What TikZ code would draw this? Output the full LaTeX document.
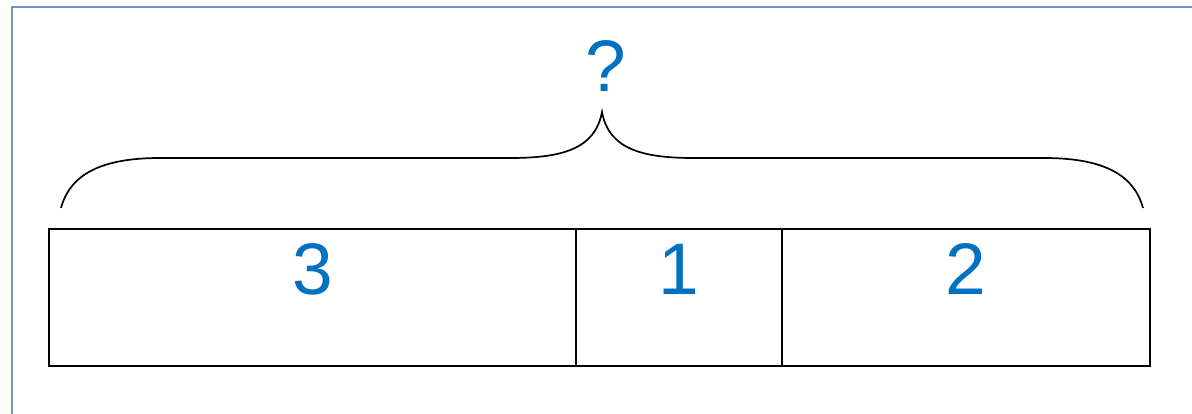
\documentclass[tikz,border=0pt]{standalone}
\usepackage{fontspec}
\setmainfont{Liberation Sans}
\definecolor{numblue}{RGB}{0,112,192}
\definecolor{framblue}{RGB}{102,153,204}
\tikzset{
  part/.style={draw, line width=1.7pt, minimum height=137pt, inner sep=0pt, outer sep=0pt, anchor=north west},
  num/.style={text=numblue, font=\fontsize{73}{74}\selectfont},
}
\begin{document}
\begin{tikzpicture}[x=1pt, y=-1pt]
  \useasboundingbox (0,0) rectangle (1192,414);
  \draw[framblue, line width=2pt] (12,414) -- (12,7) -- (1192,7);
  \node[part, minimum width=527pt] (partA) at (49,229) {};
  \node[part, minimum width=206pt] (partB) at (576,229) {};
  \node[part, minimum width=368pt] (partC) at (782,229) {};
  \node[num] (numA) at ([yshift=28pt]partA.center) {3};
  \node[num] (numB) at ([yshift=28pt]partB.center) {1};
  \node[num] (numC) at ([yshift=28pt]partC.center) {2};
  \coordinate (brL) at (61,208);
  \coordinate (brT) at (602,112);
  \coordinate (brR) at (1143,208);
  \draw[line width=1.7pt] (brL) .. controls (70,175) and (100,158) .. (160,158) -- (510,158)
    .. controls (560,158) and (595,150) .. (brT)
    .. controls (609,150) and (644,158) .. (694,158) -- (1044,158)
    .. controls (1104,158) and (1134,175) .. (brR);
  \node[num] (whole) at (606,66) {?};
\end{tikzpicture}
\end{document}
